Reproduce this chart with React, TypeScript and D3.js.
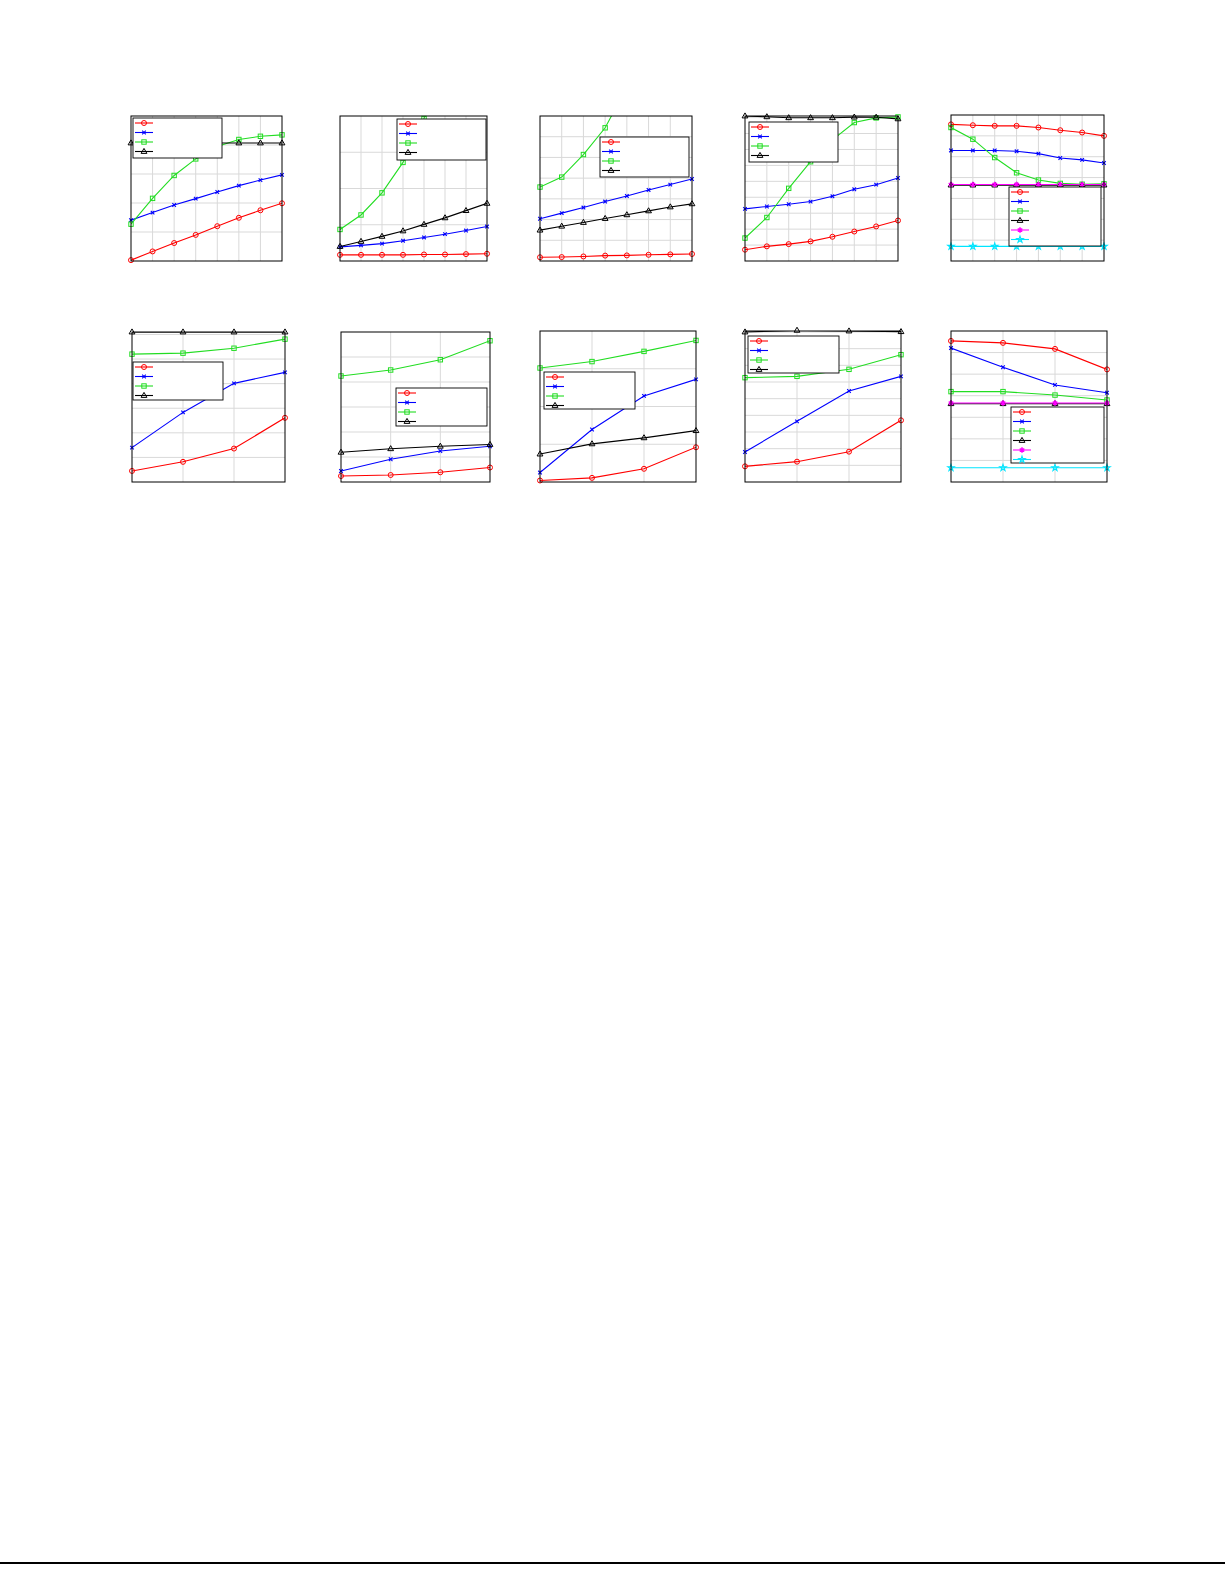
import React from 'react'
import * as d3 from 'd3'

// x positions (no labels in the figure)
const steps8 = [1, 2, 3, 4, 5, 6, 7, 8]
const steps4 = [1, 2, 3, 4]

// row 1
const p1Red = [0.03, 0.33, 0.62, 0.9, 1.2, 1.49, 1.75, 1.99]
const p1Blue = [1.41, 1.67, 1.93, 2.15, 2.38, 2.6, 2.79, 2.97]
const p1Green = [1.27, 2.16, 2.95, 3.52, 3.95, 4.19, 4.3, 4.35]
const p1Black = [4.07, 4.07, 4.07, 4.07, 4.07, 4.07, 4.07, 4.07]

const p2Red = [0.17, 0.17, 0.17, 0.17, 0.18, 0.18, 0.19, 0.2]
const p2Blue = [0.39, 0.43, 0.48, 0.56, 0.65, 0.74, 0.84, 0.95]
const p2Green = [0.87, 1.27, 1.88, 2.72, 3.93, 5.7, 8.2, 11.9]
const p2Black = [0.4, 0.54, 0.68, 0.83, 1.01, 1.19, 1.39, 1.59]

const p3Red = [0.18, 0.19, 0.22, 0.26, 0.27, 0.3, 0.32, 0.34]
const p3Blue = [2.04, 2.31, 2.58, 2.87, 3.14, 3.43, 3.69, 3.96]
const p3Green = [3.57, 4.05, 5.14, 6.43, 8.4, 10.6, 13.3, 16.5]
const p3Black = [1.49, 1.68, 1.86, 2.05, 2.23, 2.42, 2.61, 2.76]

const p4Red = [0.71, 0.92, 1.06, 1.23, 1.52, 1.85, 2.17, 2.54]
const p4Blue = [3.27, 3.42, 3.56, 3.73, 4.06, 4.5, 4.79, 5.21]
const p4Green = [1.44, 2.73, 4.56, 6.23, 7.6, 8.69, 8.98, 9.04]
const p4Black = [9.1, 9.05, 8.99, 8.99, 8.99, 9.03, 9.02, 8.92]

const p5Red = [6.55, 6.51, 6.48, 6.48, 6.4, 6.27, 6.16, 6.0]
const p5Blue = [5.3, 5.3, 5.3, 5.26, 5.15, 4.94, 4.85, 4.7]
const p5Green = [6.4, 5.84, 4.96, 4.23, 3.88, 3.72, 3.68, 3.7]
const p5Black = [3.64, 3.64, 3.64, 3.64, 3.64, 3.64, 3.64, 3.64]
const p5Magenta = [3.67, 3.67, 3.67, 3.67, 3.67, 3.67, 3.67, 3.67]
const p5Cyan = [0.7, 0.7, 0.7, 0.7, 0.7, 0.7, 0.7, 0.7]

// row 2
const p6Red = [0.45, 0.82, 1.36, 2.61]
const p6Blue = [1.4, 2.83, 4.01, 4.46]
const p6Green = [5.2, 5.24, 5.44, 5.81]
const p6Black = [6.1, 6.1, 6.1, 6.1]

const p7Red = [0.24, 0.28, 0.39, 0.58]
const p7Blue = [0.44, 0.91, 1.24, 1.43]
const p7Green = [4.24, 4.48, 4.89, 5.65]
const p7Black = [1.19, 1.33, 1.43, 1.5]

const p8Red = [0.04, 0.11, 0.35, 0.92]
const p8Blue = [0.25, 1.39, 2.28, 2.72]
const p8Green = [3.02, 3.19, 3.46, 3.75]
const p8Black = [0.74, 1.01, 1.17, 1.36]

const p9Red = [0.94, 1.22, 1.82, 3.7]
const p9Blue = [1.8, 3.64, 5.46, 6.34]
const p9Green = [6.26, 6.34, 6.76, 7.64]
const p9Black = [9.0, 9.1, 9.06, 9.02]

const p10Red = [6.54, 6.45, 6.17, 5.22]
const p10Blue = [6.21, 5.32, 4.5, 4.14]
const p10Green = [4.19, 4.19, 4.03, 3.8]
const p10Black = [3.63, 3.63, 3.63, 3.63]
const p10Magenta = [3.66, 3.66, 3.66, 3.66]
const p10Cyan = [0.66, 0.66, 0.66, 0.66]

const yMaxes = [5, 4, 7, 9.1, 7, 6.1, 6, 4, 9.06, 7]
const tickCounts = [5, 4, 7, 9, 7, 6, 6, 4, 9, 7]

type MarkerKind = 'o' | 'x' | 's' | '^' | '*' | 'p'

const styles: { color: string; marker: MarkerKind }[] = [
  { color: '#ff0000', marker: 'o' },
  { color: '#0000ff', marker: 'x' },
  { color: '#22dd22', marker: 's' },
  { color: '#000000', marker: '^' },
  { color: '#ff00ff', marker: '*' },
  { color: '#00e5ff', marker: 'p' }
]

// layout, absolute page pixels
const frames = [
  { x0: 131, x1: 282, y0: 116, y1: 261 },
  { x0: 340, x1: 487, y0: 116, y1: 261 },
  { x0: 540, x1: 692, y0: 116, y1: 261 },
  { x0: 745, x1: 898, y0: 116, y1: 261 },
  { x0: 951, x1: 1104, y0: 115, y1: 261 },
  { x0: 132, x1: 285, y0: 332, y1: 482 },
  { x0: 341, x1: 490, y0: 332, y1: 482 },
  { x0: 540, x1: 696, y0: 331, y1: 482 },
  { x0: 745, x1: 901, y0: 331, y1: 482 },
  { x0: 951, x1: 1107, y0: 331, y1: 482 }
]

const legends = [
  { x: 133, y: 118, w: 89, h: 40 },
  { x: 397, y: 119, w: 89, h: 41 },
  { x: 600, y: 137, w: 89, h: 40 },
  { x: 749, y: 122, w: 89, h: 40 },
  { x: 1009, y: 187, w: 92, h: 59 },
  { x: 133, y: 362, w: 90, h: 38 },
  { x: 396, y: 388, w: 91, h: 38 },
  { x: 544, y: 372, w: 91, h: 37 },
  { x: 748, y: 336, w: 91, h: 37 },
  { x: 1011, y: 407, w: 93, h: 56 }
]

const panels = [
  { xs: steps8, series: [p1Red, p1Blue, p1Green, p1Black] },
  { xs: steps8, series: [p2Red, p2Blue, p2Green, p2Black] },
  { xs: steps8, series: [p3Red, p3Blue, p3Green, p3Black] },
  { xs: steps8, series: [p4Red, p4Blue, p4Green, p4Black] },
  { xs: steps8, series: [p5Red, p5Blue, p5Green, p5Black, p5Magenta, p5Cyan] },
  { xs: steps4, series: [p6Red, p6Blue, p6Green, p6Black] },
  { xs: steps4, series: [p7Red, p7Blue, p7Green, p7Black] },
  { xs: steps4, series: [p8Red, p8Blue, p8Green, p8Black] },
  { xs: steps4, series: [p9Red, p9Blue, p9Green, p9Black] },
  { xs: steps4, series: [p10Red, p10Blue, p10Green, p10Black, p10Magenta, p10Cyan] }
]

const Marker: React.FC<{ kind: MarkerKind; x: number; y: number; color: string }> = ({ kind, x, y, color }) => {
  switch (kind) {
    case 'o':
      return <circle cx={x} cy={y} r={2.5} fill="none" stroke={color} strokeWidth={1} />
    case 'x':
      return (
        <path
          d={`M${x - 1.8},${y - 1.8}L${x + 1.8},${y + 1.8}M${x - 1.8},${y + 1.8}L${x + 1.8},${y - 1.8}`}
          stroke={color}
          strokeWidth={1.1}
        />
      )
    case 's':
      return <rect x={x - 2.2} y={y - 2.2} width={4.4} height={4.4} fill="none" stroke={color} strokeWidth={1} />
    case '^':
      return (
        <path
          d={`M${x},${y - 3.1}L${x + 2.9},${y + 1.9}L${x - 2.9},${y + 1.9}Z`}
          fill="none"
          stroke={color}
          strokeWidth={1}
        />
      )
    case '*':
      return (
        <path
          d={d3.symbol(d3.symbolAsterisk, 20)() ?? ''}
          transform={`translate(${x},${y})`}
          fill="none"
          stroke={color}
          strokeWidth={1.5}
        />
      )
    default:
      return (
        <path
          d={d3.symbol(d3.symbolStar, 13)() ?? ''}
          transform={`translate(${x},${y})`}
          fill="none"
          stroke={color}
          strokeWidth={1.1}
        />
      )
  }
}

const Panel: React.FC<{ index: number }> = ({ index }) => {
  const { xs, series } = panels[index]
  const f = frames[index]
  const lg = legends[index]
  const yMax = yMaxes[index]

  const x = d3.scaleLinear().domain([xs[0], xs[xs.length - 1]]).range([f.x0, f.x1])
  const y = d3.scaleLinear().domain([0, yMax]).range([f.y1, f.y0])
  const yTicks = y.ticks(tickCounts[index]).filter((t) => t > 0 && t < yMax - 0.01)
  const line = d3
    .line<number>()
    .x((_, i) => x(xs[i]))
    .y((d) => y(d))
  const clipId = `clip-${index}`

  return (
    <g>
      <defs>
        <clipPath id={clipId}>
          <rect x={f.x0} y={f.y0} width={f.x1 - f.x0} height={f.y1 - f.y0} />
        </clipPath>
      </defs>
      <rect x={f.x0} y={f.y0} width={f.x1 - f.x0} height={f.y1 - f.y0} fill="#ffffff" />
      {xs.slice(1, -1).map((v) => (
        <line key={`gx${v}`} x1={x(v)} x2={x(v)} y1={f.y0} y2={f.y1} stroke="#d9d9d9" strokeWidth={1} />
      ))}
      {yTicks.map((t) => (
        <line key={`gy${t}`} x1={f.x0} x2={f.x1} y1={y(t)} y2={y(t)} stroke="#d9d9d9" strokeWidth={1} />
      ))}
      <g clipPath={`url(#${clipId})`}>
        {series.map((s, si) => (
          <path key={`l${si}`} d={line(s) ?? ''} fill="none" stroke={styles[si].color} strokeWidth={1.1} />
        ))}
      </g>
      {series.map((s, si) => (
        <g key={`m${si}`}>
          {s.map((v, i) =>
            v <= yMax + 0.05 ? (
              <Marker key={i} kind={styles[si].marker} x={x(xs[i])} y={y(v)} color={styles[si].color} />
            ) : null
          )}
        </g>
      ))}
      <rect
        x={f.x0}
        y={f.y0}
        width={f.x1 - f.x0}
        height={f.y1 - f.y0}
        fill="none"
        stroke="#000000"
        strokeWidth={1}
      />
      <g>
        <rect x={lg.x} y={lg.y} width={lg.w} height={lg.h} fill="#ffffff" stroke="#000000" strokeWidth={0.9} />
        {series.map((_, si) => {
          const ey = lg.y + 5 + si * 9.5
          return (
            <g key={`lg${si}`}>
              <line x1={lg.x + 2} x2={lg.x + 20} y1={ey} y2={ey} stroke={styles[si].color} strokeWidth={1.1} />
              <Marker kind={styles[si].marker} x={lg.x + 11} y={ey} color={styles[si].color} />
            </g>
          )
        })}
      </g>
    </g>
  )
}

export default function App() {
  return (
    <svg
      width={1225}
      height={1585}
      viewBox="0 0 1225 1585"
      style={{ position: 'absolute', left: 0, top: 0, background: '#ffffff' }}
    >
      <rect x={0} y={0} width={1225} height={1585} fill="#ffffff" />
      {panels.map((_, i) => (
        <Panel key={i} index={i} />
      ))}
      <line x1={0} x2={1225} y1={1563} y2={1563} stroke="#000000" strokeWidth={2} />
    </svg>
  )
}
